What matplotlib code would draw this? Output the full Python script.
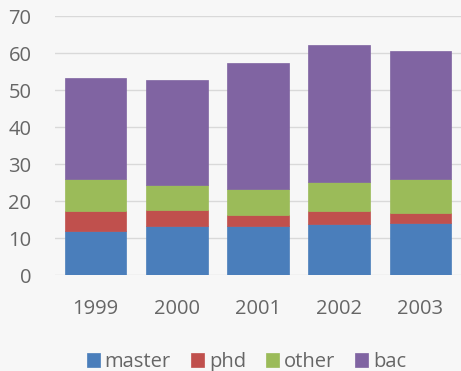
import matplotlib
matplotlib.use("Agg")
import matplotlib.pyplot as plt
import numpy as np

years = ["1999", "2000", "2001", "2002", "2003"]
master = [12.0, 13.3, 13.3, 13.9, 14.2]
phd = [5.3, 4.4, 3.1, 3.4, 2.5]
other = [8.7, 6.6, 7.0, 7.9, 9.3]
bac = [27.3, 28.5, 33.8, 36.9, 34.5]

series = [("master", master, "#4a7ebb"),
          ("phd", phd, "#c0504d"),
          ("other", other, "#9bbb59"),
          ("bac", bac, "#8064a2")]

plt.rcParams["font.family"] = ["Open Sans", "DejaVu Sans"]
bg = "#f7f7f7"
txt = "#666666"
fs = 14.5
fig = plt.figure(figsize=(4.61, 3.71), dpi=100, facecolor=bg)
ax = fig.add_axes([55 / 461, (371 - 275.3) / 371, 406 / 461, (275.3 - 16) / 371])
ax.set_facecolor(bg)

x = np.arange(len(years))
bottom = np.zeros(len(years))
for name, vals, col in series:
    ax.bar(x, vals, 0.76, bottom=bottom, color=col, label=name,
           edgecolor=col, linewidth=0.5, zorder=3)
    bottom += np.array(vals)

ax.set_xlim(-0.5, 4.5)
ax.set_ylim(0, 70)
ax.set_yticks(range(0, 71, 10))
ax.set_xticks(x)
ax.set_xticklabels(years)
ax.grid(axis="y", color="#d9d9d9", linewidth=1, zorder=0)
for s in ax.spines.values():
    s.set_visible(False)
ax.tick_params(length=0, labelsize=fs, colors=txt)
ax.tick_params(axis="x", pad=17)
ax.tick_params(axis="y", pad=17)

handles, labels = ax.get_legend_handles_labels()
fig.legend(handles, labels, loc="center", bbox_to_anchor=(0.535, 0.024), ncol=4,
           frameon=False, fontsize=fs, handlelength=0.64, handleheight=0.64,
           handletextpad=0.25, columnspacing=1.0, labelcolor=txt,
           borderaxespad=0, borderpad=0)

fig.savefig("out.png", dpi=100, facecolor=bg)
